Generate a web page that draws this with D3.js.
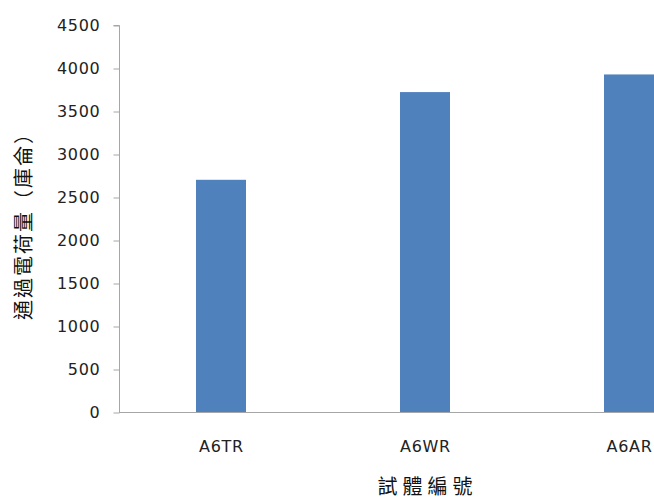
<!DOCTYPE html>
<html>
<head>
<meta charset="utf-8">
<script src="https://cdn.jsdelivr.net/npm/d3@7"></script>
<style>
  html, body { margin: 0; padding: 0; background: #fff; }
  svg { display: block; }
</style>
</head>
<body>
<svg id="chart" width="654" height="499"></svg>
<script>
// Specimen IDs and the charge passed for each (coulombs)
const categories = ["A6TR", "A6WR", "A6AR"];
const chargeValues = [2700, 3720, 3925];
const yTicks = [0, 500, 1000, 1500, 2000, 2500, 3000, 3500, 4000, 4500];

const yTitle = "通過電荷量（庫侖）";
const xTitle = "試體編號";

const svg = d3.select("#chart");
const plot = { left: 119, top: 25, bottom: 412, right: 731 };

const y = d3.scaleLinear().domain([0, 4500]).range([plot.bottom, plot.top]);
const x = d3.scaleBand()
  .domain(categories)
  .range([plot.left, plot.right])
  .paddingInner(0.755)
  .paddingOuter(0.3775);

const axisColor = "#a6a6a6";
const labelFont = "'DejaVu Sans', sans-serif";
const titleFont = "'Noto Sans CJK TC', sans-serif";

// Bars
svg.append("g").selectAll("rect")
  .data(categories.map((c, i) => ({ c, v: chargeValues[i] })))
  .join("rect")
  .attr("x", d => x(d.c))
  .attr("y", d => y(d.v))
  .attr("width", x.bandwidth())
  .attr("height", d => y(0) - y(d.v))
  .attr("fill", "#4f81bd");

// Y axis
const yAxis = svg.append("g")
  .attr("transform", `translate(${plot.left + 0.5},0)`)
  .call(d3.axisLeft(y).tickValues(yTicks).tickSize(6).tickPadding(13).tickFormat(d3.format("d")));
yAxis.select(".domain").attr("stroke", axisColor).attr("d", `M-6,${y(4500) + 0.5}H0V${y(0) + 0.5}`);
yAxis.selectAll(".tick line").attr("stroke", axisColor).attr("transform", "translate(0,0.5)");
yAxis.selectAll(".tick text")
  .attr("fill", "#222")
  .attr("dy", "0.36em")
  .style("font-family", labelFont)
  .style("font-size", "16px")
  .style("letter-spacing", "0.7px");

// X axis (no tick marks)
const xAxis = svg.append("g")
  .attr("transform", `translate(0,${plot.bottom + 0.5})`)
  .call(d3.axisBottom(x).tickSize(0).tickPadding(28));
xAxis.select(".domain").attr("stroke", axisColor).attr("d", `M${plot.left},0H${plot.right}`);
xAxis.selectAll(".tick text")
  .attr("fill", "#222")
  .attr("dx", "0.5px")
  .style("font-family", labelFont)
  .style("font-size", "16px")
  .style("letter-spacing", "0.7px");

// Axis titles
svg.append("text")
  .attr("transform", `translate(31,221) rotate(-90)`)
  .attr("text-anchor", "middle")
  .style("font-family", titleFont)
  .style("font-size", "20px")
  .style("letter-spacing", "2px")
  .attr("fill", "#111")
  .text(yTitle);

svg.append("text")
  .attr("x", 427.5)
  .attr("y", 494)
  .attr("text-anchor", "middle")
  .style("font-family", titleFont)
  .style("font-size", "20px")
  .style("letter-spacing", "5px")
  .attr("fill", "#111")
  .text(xTitle);
</script>
</body>
</html>
